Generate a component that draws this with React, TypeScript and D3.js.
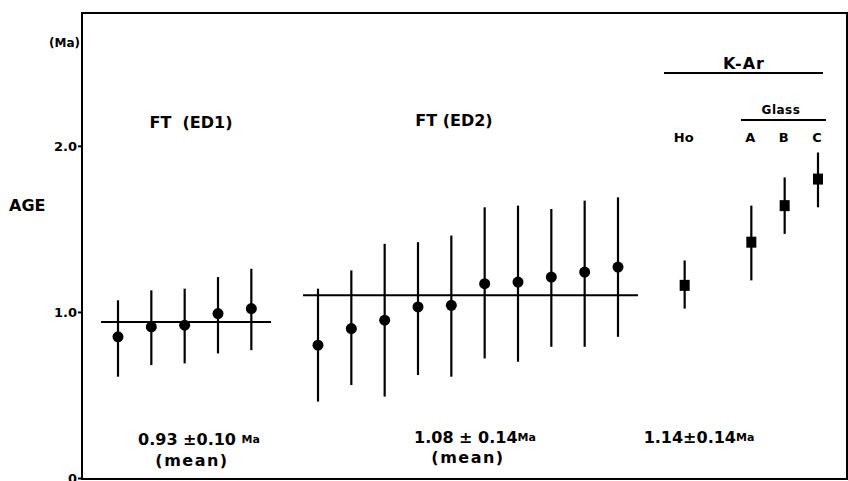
import React, { useEffect, useRef } from 'react'
import * as d3 from 'd3'

// positions along the x axis are sample slots (1 slot = one measurement)
const ed1Slots = [1, 2, 3, 4, 5]
const ed1Age = [0.85, 0.91, 0.92, 0.99, 1.02]
const ed1Low = [0.61, 0.68, 0.69, 0.75, 0.77]
const ed1High = [1.07, 1.13, 1.14, 1.21, 1.26]
const ed1Mean = 0.94

const ed2Slots = [7, 8, 9, 10, 11, 12, 13, 14, 15, 16]
const ed2Age = [0.8, 0.9, 0.95, 1.03, 1.04, 1.17, 1.18, 1.21, 1.24, 1.27]
const ed2Low = [0.46, 0.56, 0.49, 0.62, 0.61, 0.72, 0.7, 0.79, 0.79, 0.85]
const ed2High = [1.14, 1.25, 1.41, 1.42, 1.46, 1.63, 1.64, 1.62, 1.67, 1.69]
const ed2Mean = 1.1

const karLabels = ['Ho', 'A', 'B', 'C']
const karSlots = [18, 20, 21, 22]
const karAge = [1.16, 1.42, 1.64, 1.8]
const karLow = [1.02, 1.19, 1.47, 1.63]
const karHigh = [1.31, 1.64, 1.81, 1.96]

const yTicks = [0, 1, 2]
const yTickLabels = ['0', '1.0', '2.0']

const W = 848
const H = 481
const font = "'DejaVu Sans', sans-serif"

function App() {
  const ref = useRef<SVGSVGElement>(null)

  useEffect(() => {
    const svg = d3.select(ref.current)
    svg.selectAll('*').remove()

    const left = 82, right = 847, top = 13, bottom = 479
    const x = d3.scaleLinear().domain([-0.08, 22.87]).range([left, right])
    const y = d3.scaleLinear().domain([0, 2.8]).range([478, 13])

    // frame
    svg.append('rect')
      .attr('x', left).attr('y', top)
      .attr('width', right - left).attr('height', bottom - top)
      .attr('fill', 'none').attr('stroke', '#000').attr('stroke-width', 2)

    // y axis
    const yAxis = d3.axisLeft(y)
      .tickValues(yTicks)
      .tickSize(4)
      .tickFormat((d, i) => yTickLabels[i])
    const gy = svg.append('g')
      .attr('transform', `translate(${left},0)`)
      .call(yAxis)
    gy.select('.domain').remove()
    gy.selectAll('line').attr('stroke', '#000').attr('stroke-width', 2)
    gy.selectAll('text')
      .attr('font-family', font).attr('font-weight', 'bold')
      .attr('font-size', 13).attr('fill', '#000').attr('dx', 2)

    const bars = (slots: number[], lo: number[], hi: number[]) => {
      svg.append('g').selectAll('line')
        .data(slots)
        .enter()
        .append('line')
        .attr('x1', d => x(d)).attr('x2', d => x(d))
        .attr('y1', (d, i) => y(lo[i])).attr('y2', (d, i) => y(hi[i]))
        .attr('stroke', '#000').attr('stroke-width', 2.2)
    }

    const meanLine = (from: number, to: number, v: number) => {
      svg.append('line')
        .attr('x1', x(from)).attr('x2', x(to))
        .attr('y1', y(v)).attr('y2', y(v))
        .attr('stroke', '#000').attr('stroke-width', 2)
    }

    meanLine(0.49, 5.59, ed1Mean)
    meanLine(6.55, 16.6, ed2Mean)

    bars(ed1Slots, ed1Low, ed1High)
    bars(ed2Slots, ed2Low, ed2High)
    bars(karSlots, karLow, karHigh)

    const dots = (slots: number[], ages: number[]) => {
      svg.append('g').selectAll('circle')
        .data(slots)
        .enter()
        .append('circle')
        .attr('cx', d => x(d)).attr('cy', (d, i) => y(ages[i]))
        .attr('r', 5.5).attr('fill', '#000')
    }
    dots(ed1Slots, ed1Age)
    dots(ed2Slots, ed2Age)

    svg.append('g').selectAll('rect')
      .data(karSlots)
      .enter()
      .append('rect')
      .attr('x', d => x(d) - 5).attr('y', (d, i) => y(karAge[i]) - 5.5)
      .attr('width', 10).attr('height', 11)
      .attr('fill', '#000')

    const label = (tx: number, ty: number, s: string, size: number, anchor = 'middle') =>
      svg.append('text')
        .attr('x', tx).attr('y', ty)
        .attr('text-anchor', anchor)
        .attr('dominant-baseline', 'central')
        .attr('font-family', font).attr('font-weight', 'bold')
        .attr('font-size', size).attr('fill', '#000')
        .text(s)

    label(80, 43, '(Ma)', 12, 'end')
    label(9, 205, 'AGE', 16, 'start')
    label(191, 122, 'FT  (ED1)', 16).attr('xml:space', 'preserve')
    label(454, 120, 'FT (ED2)', 16)
    label(744, 63, 'K-Ar', 16).attr('letter-spacing', 1)
    label(781, 110, 'Glass', 12).attr('letter-spacing', 0.5)

    svg.append('line').attr('x1', 664).attr('x2', 823).attr('y1', 73).attr('y2', 73)
      .attr('stroke', '#000').attr('stroke-width', 2)
    svg.append('line').attr('x1', 741).attr('x2', 826).attr('y1', 120).attr('y2', 120)
      .attr('stroke', '#000').attr('stroke-width', 2)

    karLabels.forEach((s, i) => label(x(karSlots[i]) - 1, 137, s, 13))

    const ageText = (tx: number, ty: number, parts: string[]) => {
      const t = label(tx, ty, '', 16)
      t.append('tspan').text(parts[0])
      t.append('tspan').attr('font-size', 11).text(parts[1])
    }
    ageText(199, 439, ['0.93 ±0.10 ', 'Ma'])
    label(192, 460, '(mean)', 16).attr('letter-spacing', 1.5)
    ageText(475, 437, ['1.08 ± 0.14', 'Ma'])
    label(468, 457, '(mean)', 16).attr('letter-spacing', 1.5)
    ageText(699, 437, ['1.14±0.14', 'Ma'])
  }, [])

  return (
    <svg ref={ref} width={W} height={H}
      style={{ position: 'absolute', left: 0, top: 0, background: '#fff' }} />
  )
}

export default App
